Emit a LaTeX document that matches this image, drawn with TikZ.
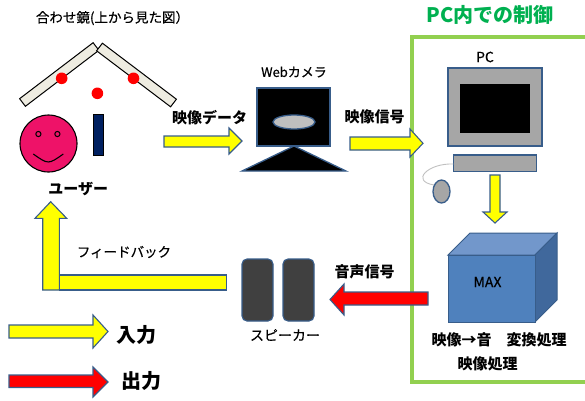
\documentclass[tikz,border=0pt]{standalone}
\usepackage{fontspec}
\newfontfamily\jp{Noto Sans CJK JP}
\newfontfamily\jpm{Noto Sans CJK JP}[FakeBold=0.5]
\definecolor{outl}{RGB}{56,93,138}
\definecolor{inyellow}{RGB}{255,255,0}
\definecolor{outred}{RGB}{255,0,0}
\definecolor{framegreen}{RGB}{146,208,80}
\definecolor{titlegreen}{RGB}{0,176,80}
\definecolor{mirrorfill}{RGB}{238,236,225}
\definecolor{facepink}{RGB}{238,18,104}
\definecolor{navy}{RGB}{0,32,96}
\definecolor{pcgray}{RGB}{166,166,166}
\definecolor{lensgray}{RGB}{191,191,191}
\definecolor{spkgray}{RGB}{64,64,64}
\definecolor{cubefront}{RGB}{79,129,189}
\definecolor{cubetop}{RGB}{114,151,203}
\definecolor{cubeside}{RGB}{64,104,156}
\definecolor{cablegray}{RGB}{192,192,192}
\newcommand{\fsz}[1]{\fontsize{#1}{#1}\selectfont}
\tikzset{
  lbl/.style={inner sep=0pt, anchor=center, font=\jp\fsz{15}\bfseries},
  lblreg/.style={inner sep=0pt, anchor=center, font=\jpm\fsz{14}},
  inarrow/.style={fill=inyellow, draw=outl, line width=1.1pt, line join=miter},
  outarrow/.style={fill=outred, draw=outl, line width=1.1pt, line join=miter},
  mirror/.style={fill=mirrorfill, draw=black, line width=1pt},
  dev/.style={draw=outl, line width=1.3pt},
}
\begin{document}
\begin{tikzpicture}[x=1pt,y=-1pt]
\useasboundingbox (0,0) rectangle (585,400);
\clip (0,0) rectangle (585,400);

% ---- mirrors seen from above ----
\node[lblreg, font=\jpm\fsz{13.5}] (title) at (112.5,18) {合わせ鏡(上から見た図）};
\draw[mirror] (19.6,98.7) -- (93.1,42.7) -- (98.9,50.3) -- (25.4,106.3) -- cycle;
\draw[mirror] (102.4,43.2) -- (176.4,99.2) -- (170.6,106.8) -- (96.6,50.8) -- cycle;
\fill[red] (61.7,78.3) circle (5.8);
\fill[red] (133.5,78.3) circle (5.8);
\fill[red] (97.4,93.3) circle (5.8);

% ---- user ----
\draw[fill=facepink, draw=black, line width=1.1pt] (48.5,143.5) circle (28.5);
\draw[fill=facepink, draw=black, line width=1pt] (38.4,134) circle (2.6);
\draw[fill=facepink, draw=black, line width=1pt] (57.4,134) circle (2.6);
\draw[black, line width=1.1pt] (33.3,154) .. controls (48.3,164.6) .. (63.3,154);
\draw[fill=navy, draw=black, line width=1pt] (93,114) rectangle (103,155);
\node[lbl] (user) at (78.3,189.3) {ユーザー};

% ---- web camera ----
\node[lblreg, font=\jpm\fsz{13}] (camlbl) at (294,72) {Webカメラ};
\draw[dev, fill=black] (257,88) rectangle (330,146);
\draw[dev, fill=lensgray] (294,122) ellipse (21 and 7);
\draw[dev, fill=black, line join=miter] (294,146) -- (346,171) -- (242,171) -- cycle;

% ---- control inside the PC ----
\draw[framegreen, line width=3.5pt] (412,37) rectangle (600,382);
\node[inner sep=0pt, font=\jp\fsz{20}\bfseries, text=titlegreen] (pctitle) at (490,15) {PC内での制御};
\node[lblreg] (pclbl) at (485,57) {PC};
\draw[dev, fill=pcgray] (448,68) rectangle (542,146);
\fill[black] (460,84) rectangle (530,133);
\draw[dev, fill=pcgray] (453.3,155) rectangle (536.7,171.5);
\draw[cablegray, line width=0.9pt] (453.3,164) .. controls (428,163) and (410,181) .. (434,185);
\draw[dev, fill=pcgray] (441.5,191.5) ellipse (8.5 and 11.5);

% MAX block
\draw[outl, line width=1pt, fill=cubetop] (448,255) -- (470,233) -- (557,233) -- (535,255) -- cycle;
\draw[outl, line width=1pt, fill=cubeside] (535,255) -- (557,233) -- (557,300) -- (535,322) -- cycle;
\draw[outl, line width=1pt, fill=cubefront] (448,255) rectangle (535,322);
\node[lblreg] (maxlbl) at (487.5,282) {MAX};
\node[lbl] (conv) at (499,339.5) {映像→音　変換処理};
\node[lbl] (proc) at (487.5,364) {映像処理};

% ---- speakers ----
\draw[dev, fill=spkgray, rounded corners=5pt, line width=1.1pt] (242,259) rectangle (273,321);
\draw[dev, fill=spkgray, rounded corners=5pt, line width=1.1pt] (283,259) rectangle (314,321);
\node[lblreg] (spk) at (285,335) {スピーカー};

% ---- signal arrows ----
\draw[inarrow] (164,136) -- (229,136) -- (229,128) -- (242,141) -- (229,154) -- (229,147) -- (164,147) -- cycle;
\node[lbl] (vdata) at (209.5,118) {映像データ};
\draw[inarrow] (350,137) -- (410,137) -- (410,129) -- (423,143.3) -- (410,157) -- (410,150) -- (350,150) -- cycle;
\node[lbl] (vsig) at (374.5,117.3) {映像信号};
\draw[inarrow] (490,175) -- (500,175) -- (500,212) -- (507,212) -- (495,223) -- (483,212) -- (490,212) -- cycle;
\draw[outarrow] (428,292) -- (344,292) -- (344,284) -- (330,299.5) -- (344,315) -- (344,305) -- (428,305) -- cycle;
\node[lbl] (asig) at (364.5,272) {音声信号};

% feedback
\draw[inarrow] (59.3,275) rectangle (226.7,290);
\draw[inarrow] (42.7,290) -- (42.7,218.3) -- (35,218.3) -- (50.7,201.7) -- (66.7,218.3) -- (59.3,218.3) -- (59.3,290) -- cycle;
\node[lblreg, font=\jpm\fsz{13.5}] (fb) at (124,252) {フィードバック};

% ---- legend ----
\draw[inarrow] (9,325) -- (93,325) -- (93,315) -- (108,331.5) -- (93,348) -- (93,338) -- (9,338) -- cycle;
\node[lbl, font=\jp\fsz{20}\bfseries] (inlbl) at (136,335) {入力};
\draw[outarrow] (9,375) -- (93,375) -- (93,367) -- (108,382) -- (93,397) -- (93,387.5) -- (9,387.5) -- cycle;
\node[lbl, font=\jp\fsz{20}\bfseries] (outlbl) at (141.5,381) {出力};
\end{tikzpicture}
\end{document}
